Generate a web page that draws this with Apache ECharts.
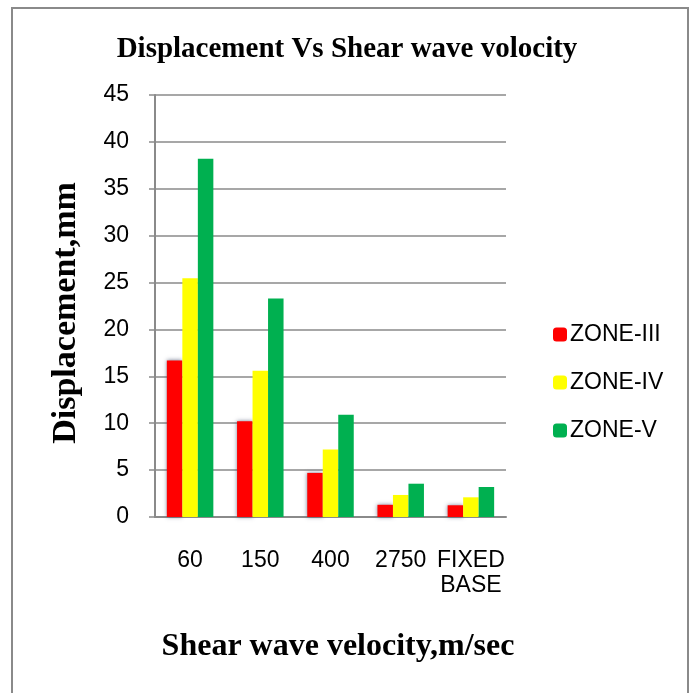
<!DOCTYPE html>
<html><head><meta charset="utf-8">
<script src="https://cdn.jsdelivr.net/npm/echarts@6/dist/echarts.min.js"></script>
<style>html,body{margin:0;padding:0;background:#fff}#c{width:694px;height:693px}</style>
</head><body><div id="c"></div>
<script>
const categories = ['60', '150', '400', '2750', 'FIXED\nBASE'];
const zone3 = [16.7, 10.2, 4.7, 1.3, 1.25];
const zone4 = [25.45, 15.6, 7.2, 2.35, 2.1];
const zone5 = [38.2, 23.3, 10.9, 3.55, 3.2];
const seriesNames = ['ZONE-III', 'ZONE-IV', 'ZONE-V'];
const yTicks = {min: 0, max: 45, interval: 5};

const chart = echarts.init(document.getElementById('c'));
const sans = "'Liberation Sans', Arial, sans-serif";
const serif = "'Liberation Serif', 'Times New Roman', serif";
const grey = '#8a8a8a';
chart.setOption({
  animation: false,
  backgroundColor: '#fff',
  graphic: [{
    type: 'rect', shape: {x: 12, y: 8, width: 676, height: 720},
    style: {fill: 'none', stroke: grey, lineWidth: 2}, silent: true
  }],
  title: {
    text: 'Displacement Vs Shear wave volocity', left: 'center', top: 30,
    textStyle: {fontFamily: serif, fontWeight: 'bold', fontSize: 29, color: '#000'}
  },
  legend: {
    orient: 'vertical', left: 548, top: 318, itemWidth: 14, itemHeight: 14, itemGap: 25,
    textStyle: {fontFamily: sans, fontSize: 23, color: '#000', padding: [0, 0, 0, -2]},
    data: seriesNames
  },
  grid: {left: 155, right: 188, top: 95, bottom: 176},
  xAxis: {
    type: 'category', data: categories,
    name: 'Shear wave velocity,m/sec', nameLocation: 'middle', nameGap: 114,
    nameTextStyle: {fontFamily: serif, fontWeight: 'bold', fontSize: 32, color: '#000', padding: [0, 0, 0, 15]},
    axisLine: {lineStyle: {color: grey, width: 2}},
    axisTick: {show: false},
    axisLabel: {interval: 0, fontFamily: sans, fontSize: 23, color: '#000', margin: 31, lineHeight: 25}
  },
  yAxis: {
    type: 'value', min: yTicks.min, max: yTicks.max, interval: yTicks.interval,
    name: 'Displacement,mm', nameLocation: 'middle', nameGap: 72,
    nameTextStyle: {fontFamily: serif, fontWeight: 'bold', fontSize: 34, color: '#000', padding: [0, 14, 0, 0]},
    axisLine: {show: true, lineStyle: {color: grey, width: 2}},
    axisTick: {show: true, length: 6, lineStyle: {color: grey, width: 1.5}},
    axisLabel: {fontFamily: sans, fontSize: 23, color: '#000', margin: 26},
    splitLine: {lineStyle: {color: grey, width: 1.5}}
  },
  series: [
    {name: seriesNames[0], type: 'bar', data: zone3, barWidth: 15.5, barGap: '0%',
     itemStyle: {color: '#ff0000', shadowColor: 'rgba(70,80,110,0.7)', shadowBlur: 4}},
    {name: seriesNames[1], type: 'bar', data: zone4, barWidth: 15.5, barGap: '0%',
     itemStyle: {color: '#ffff00'}},
    {name: seriesNames[2], type: 'bar', data: zone5, barWidth: 15.5, barGap: '0%',
     itemStyle: {color: '#00b050'}}
  ]
});
</script></body></html>
